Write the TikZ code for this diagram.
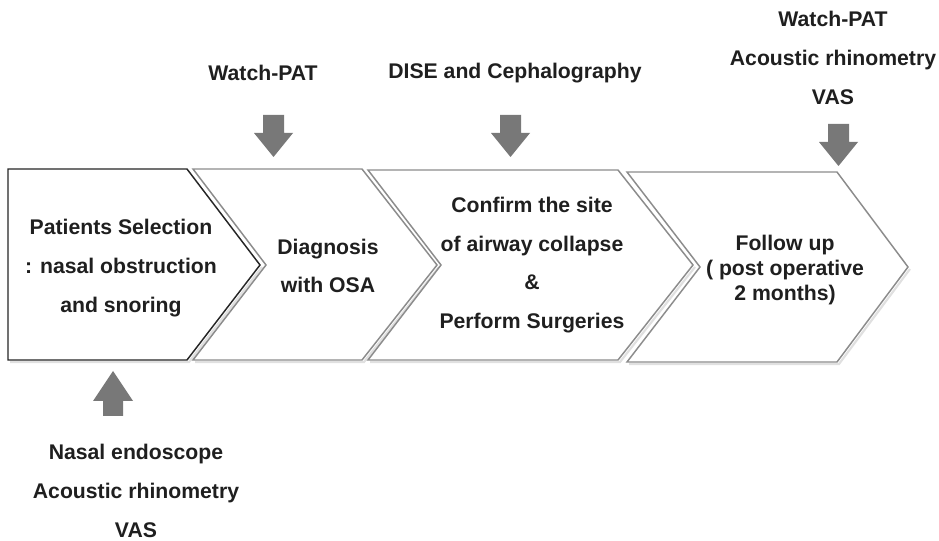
\documentclass[tikz,border=0pt]{standalone}
\usepackage{fontspec}
\setmainfont{Liberation Sans}
\begin{document}
\begin{tikzpicture}[x=0.75pt,y=-0.75pt,
  chevA/.style={draw=black!85, line width=1.1pt, fill=white, line join=miter},
  chevB/.style={draw=black!45, line width=1.1pt, fill=white, line join=miter},
  shadowline/.style={draw=black!12, line width=1.6pt},
  blockarrow/.style={fill=black!53, draw=none},
  lbl/.style={font=\bfseries\fontsize{15.9}{29}\selectfont, text=black!88, align=center, inner sep=0pt},
  lbltight/.style={font=\bfseries\fontsize{15.9}{18.8}\selectfont, text=black!88, align=center, inner sep=0pt}
]
\useasboundingbox (0,0) rectangle (939,541);
\fill[white] (0,0) rectangle (939,541);

% shadows
\draw[shadowline] (10,362) -- (189,362) -- (262,267);
\draw[shadowline] (195,362) -- (364,362) -- (439,267);
\draw[shadowline] (370,362) -- (620,362) -- (695,267);
\draw[shadowline] (629,364) -- (839,364) -- (910,269);

% chevrons
\draw[chevA] (8,169) -- (187,169) -- (260,265) -- (187,360) -- (8,360) -- cycle;
\draw[chevB] (193,169) -- (362,169) -- (437,265) -- (362,360) -- (193,360) -- (266,265) -- cycle;
\draw[chevB] (368,170) -- (618,170) -- (693,265) -- (618,360) -- (368,360) -- (441,265) -- cycle;
\draw[chevB] (627,172) -- (837,172) -- (908,267) -- (837,362) -- (627,362) -- (700,267) -- cycle;

% chevron texts
\node[lbl] (sel) at (121,268) {Patients Selection\\: nasal obstruction\\and snoring};
\node[lbl] (diag) at (328,266) {Diagnosis\\with OSA};
\node[lbl] (conf) at (532,265) {Confirm the site\\of airway collapse\\\&\\Perform Surgeries};
\node[lbltight] (fol) at (785,270) {Follow up\\( post operative\\2 months)};

% top labels
\node[lbl] (wp1) at (263,73) {Watch-PAT};
\node[lbl] (dise) at (515,73) {DISE and Cephalography};
\node[lbl] (fu) at (833,58) {Watch-PAT\\Acoustic rhinometry\\VAS};
% bottom label
\node[lbl] (pre) at (136,491) {Nasal endoscope\\Acoustic rhinometry\\VAS};

% block arrows
\fill[blockarrow] (263,115) -- (284,115) -- (284,133) -- (293,133) -- (273.5,157) -- (254,133) -- (263,133) -- cycle;
\fill[blockarrow] (500,115) -- (521,115) -- (521,133) -- (530,133) -- (510.5,157) -- (491,133) -- (500,133) -- cycle;
\fill[blockarrow] (828,124) -- (849,124) -- (849,142) -- (858,142) -- (838.5,166) -- (819,142) -- (828,142) -- cycle;
\fill[blockarrow] (103,416) -- (123,416) -- (123,401) -- (133,401) -- (113,371) -- (93,401) -- (103,401) -- cycle;
\end{tikzpicture}
\end{document}
